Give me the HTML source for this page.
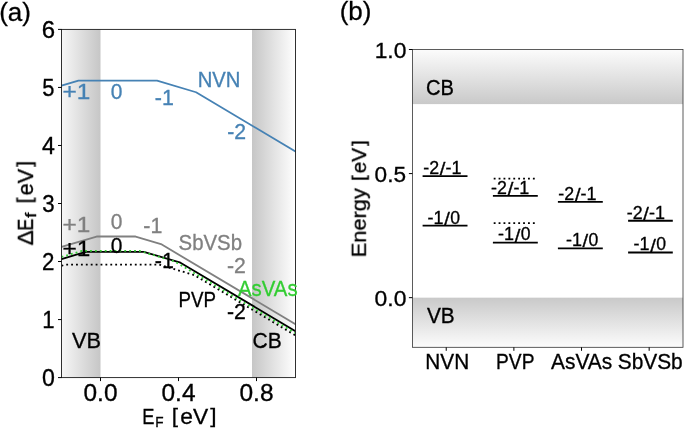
<!DOCTYPE html>
<html><head><meta charset="utf-8"><title>Formation energies</title>
<style>
html,body{margin:0;padding:0;background:#fff;}
body{width:685px;height:430px;overflow:hidden;}
svg{display:block;}
text{font-family:"Liberation Sans",sans-serif;white-space:pre;}
</style></head><body>
<svg width="685" height="430" viewBox="0 0 685 430">
<defs>
<linearGradient id="gvb" x1="0" y1="0" x2="1" y2="0"><stop offset="0" stop-color="#f7f7f7"/><stop offset="1" stop-color="#c6c6c6"/></linearGradient>
<linearGradient id="gcb" x1="0" y1="0" x2="1" y2="0"><stop offset="0" stop-color="#c6c6c6"/><stop offset="1" stop-color="#ffffff"/></linearGradient>
<linearGradient id="gcbv" x1="0" y1="0" x2="0" y2="1"><stop offset="0" stop-color="#fcfcfc"/><stop offset="1" stop-color="#c9c9c9"/></linearGradient>
<linearGradient id="gvbv" x1="0" y1="0" x2="0" y2="1"><stop offset="0" stop-color="#c9c9c9"/><stop offset="1" stop-color="#fcfcfc"/></linearGradient>
<filter id="idf" x="-5%" y="-5%" width="110%" height="110%" color-interpolation-filters="sRGB"><feOffset dx="0" dy="0"/></filter>
<clipPath id="ca"><rect x="61.5" y="29.4" width="234.0" height="348.20000000000005"/></clipPath>
</defs>
<rect width="685" height="430" fill="#fff"/>

<rect x="61.5" y="29.4" width="39.00" height="348.20000000000005" fill="url(#gvb)"/>
<rect x="252.00" y="29.4" width="43.50" height="348.20000000000005" fill="url(#gcb)"/>
<polyline points="61.50,85.69 78.47,80.64 157.05,80.64 196.05,92.25 295.50,151.44" fill="none" stroke="#4682b4" stroke-width="1.8" stroke-linejoin="round" stroke-linecap="square" clip-path="url(#ca)"/>
<polyline points="61.50,259.04 85.88,251.78 143.79,251.78 180.45,262.69 295.50,331.17" fill="none" stroke="#000" stroke-width="1.8" stroke-linejoin="round" stroke-linecap="square" clip-path="url(#ca)"/>
<polyline points="61.50,265.77 65.40,264.61 159.00,264.61 194.10,275.06 295.50,335.41" fill="none" stroke="#000" stroke-width="1.8" stroke-linejoin="round" stroke-linecap="butt" stroke-dasharray="1.85 3.05" clip-path="url(#ca)"/>
<polyline points="61.50,257.01 81.98,250.91 139.50,250.91 174.60,261.36 295.50,333.32" fill="none" stroke="#32cd32" stroke-width="1.8" stroke-linejoin="round" stroke-linecap="butt" stroke-dasharray="1.85 3.05" clip-path="url(#ca)"/>
<polyline points="61.50,246.97 96.60,236.52 135.60,236.52 160.95,244.07 295.50,324.15" fill="none" stroke="#808080" stroke-width="1.8" stroke-linejoin="round" stroke-linecap="square" clip-path="url(#ca)"/>
<rect x="61.5" y="29.4" width="234.0" height="348.20000000000005" fill="none" stroke="#1a1a1a" stroke-width="0.9"/>
<line x1="58.0" y1="377.60" x2="61.5" y2="377.60" stroke="#000" stroke-width="1"/>
<text transform="translate(41.95 386.08) scale(1.0541 1.0683)" font-size="22.00" fill="#000" stroke="#000" stroke-width="0.3" filter="url(#idf)">0</text>
<line x1="58.0" y1="319.57" x2="61.5" y2="319.57" stroke="#000" stroke-width="1"/>
<text transform="translate(42.13 327.97) scale(1.0068 1.0596)" font-size="22.00" fill="#000" stroke="#000" stroke-width="0.3" filter="url(#idf)">1</text>
<line x1="58.0" y1="261.53" x2="61.5" y2="261.53" stroke="#000" stroke-width="1"/>
<text transform="translate(41.89 269.93) scale(1.0161 1.0629)" font-size="22.00" fill="#000" stroke="#000" stroke-width="0.3" filter="url(#idf)">2</text>
<line x1="58.0" y1="203.50" x2="61.5" y2="203.50" stroke="#000" stroke-width="1"/>
<text transform="translate(42.23 211.98) scale(1.0124 1.0683)" font-size="22.00" fill="#000" stroke="#000" stroke-width="0.3" filter="url(#idf)">3</text>
<line x1="58.0" y1="145.47" x2="61.5" y2="145.47" stroke="#000" stroke-width="1"/>
<text transform="translate(41.94 153.87) scale(1.0543 1.0596)" font-size="22.00" fill="#000" stroke="#000" stroke-width="0.3" filter="url(#idf)">4</text>
<line x1="58.0" y1="87.43" x2="61.5" y2="87.43" stroke="#000" stroke-width="1"/>
<text transform="translate(42.22 95.92) scale(0.9949 1.0651)" font-size="22.00" fill="#000" stroke="#000" stroke-width="0.3" filter="url(#idf)">5</text>
<line x1="58.0" y1="29.40" x2="61.5" y2="29.40" stroke="#000" stroke-width="1"/>
<text transform="translate(41.72 37.88) scale(1.0910 1.0683)" font-size="22.00" fill="#000" stroke="#000" stroke-width="0.3" filter="url(#idf)">6</text>
<line x1="100.50" y1="377.6" x2="100.50" y2="381.1" stroke="#000" stroke-width="1"/>
<text transform="translate(83.50 400.88) scale(1.1113 1.0683)" font-size="22.00" fill="#000" stroke="#000" stroke-width="0.3" filter="url(#idf)">0.0</text>
<line x1="178.50" y1="377.6" x2="178.50" y2="381.1" stroke="#000" stroke-width="1"/>
<text transform="translate(161.50 400.88) scale(1.1108 1.0683)" font-size="22.00" fill="#000" stroke="#000" stroke-width="0.3" filter="url(#idf)">0.4</text>
<line x1="256.50" y1="377.6" x2="256.50" y2="381.1" stroke="#000" stroke-width="1"/>
<text transform="translate(239.50 400.88) scale(1.1135 1.0683)" font-size="22.00" fill="#000" stroke="#000" stroke-width="0.3" filter="url(#idf)">0.8</text>
<text transform="translate(142.30 424.20) scale(0.9013 1.0596)" font-size="20.30" fill="#000" stroke="#000" stroke-width="0.3" filter="url(#idf)">E</text>
<text transform="translate(155.18 427.40) scale(0.9857 1.0596)" font-size="13.80" fill="#000" stroke="#000" stroke-width="0.3" filter="url(#idf)">F</text>
<text transform="translate(171.79 422.95) scale(1.0418 0.9565)" font-size="21.70" fill="#000" stroke="#000" stroke-width="0.3" filter="url(#idf)">[</text>
<text transform="translate(180.23 424.48) scale(1.0506 0.9964)" font-size="21.70" fill="#000" stroke="#000" stroke-width="0.3" filter="url(#idf)">eV</text>
<text transform="translate(210.13 422.95) scale(1.0418 0.9565)" font-size="21.70" fill="#000" stroke="#000" stroke-width="0.3" filter="url(#idf)">]</text>
<text transform="translate(32.9 245.0) rotate(-90) translate(-0.38 0.00) scale(1.0988 1.0596)" font-size="20.70" fill="#000" stroke="#000" stroke-width="0.3" filter="url(#idf)">Δ</text>
<text transform="translate(32.9 245.0) rotate(-90) translate(14.33 0.00) scale(0.8667 1.0596)" font-size="20.70" fill="#000" stroke="#000" stroke-width="0.3" filter="url(#idf)">E</text>
<text transform="translate(32.9 245.0) rotate(-90) translate(27.13 3.10) scale(1.3131 1.0499)" font-size="14.49" fill="#000" stroke="#000" stroke-width="0.3" filter="url(#idf)">f</text>
<text transform="translate(32.9 245.0) rotate(-90) translate(41.56 -1.38) scale(1.0418 0.9565)" font-size="20.70" fill="#000" stroke="#000" stroke-width="0.3" filter="url(#idf)">[</text>
<text transform="translate(32.9 245.0) rotate(-90) translate(49.62 0.08) scale(1.0506 1.0651)" font-size="20.70" fill="#000" stroke="#000" stroke-width="0.3" filter="url(#idf)">eV</text>
<text transform="translate(32.9 245.0) rotate(-90) translate(78.14 -1.38) scale(1.0418 0.9565)" font-size="20.70" fill="#000" stroke="#000" stroke-width="0.3" filter="url(#idf)">]</text>
<text transform="translate(62.51 98.70) scale(1.1933 1.0596)" font-size="20.40" fill="#4682b4" stroke="#4682b4" stroke-width="0.3" filter="url(#idf)">+1</text>
<text transform="translate(110.68 98.78) scale(1.0278 1.0683)" font-size="20.40" fill="#4682b4" stroke="#4682b4" stroke-width="0.3" filter="url(#idf)">0</text>
<text transform="translate(154.85 104.90) scale(1.0486 1.0596)" font-size="20.40" fill="#4682b4" stroke="#4682b4" stroke-width="0.3" filter="url(#idf)">-1</text>
<text transform="translate(227.26 139.30) scale(1.0409 1.0629)" font-size="20.40" fill="#4682b4" stroke="#4682b4" stroke-width="0.3" filter="url(#idf)">-2</text>
<text transform="translate(197.74 87.10) scale(0.9931 1.0596)" font-size="20.40" fill="#4682b4" stroke="#4682b4" stroke-width="0.3" filter="url(#idf)">NVN</text>
<text transform="translate(62.51 232.40) scale(1.1933 1.0596)" font-size="20.40" fill="#808080" stroke="#808080" stroke-width="0.3" filter="url(#idf)">+1</text>
<text transform="translate(110.68 229.48) scale(1.0278 1.0683)" font-size="20.40" fill="#808080" stroke="#808080" stroke-width="0.3" filter="url(#idf)">0</text>
<text transform="translate(143.35 232.60) scale(1.0486 1.0596)" font-size="20.40" fill="#808080" stroke="#808080" stroke-width="0.3" filter="url(#idf)">-1</text>
<text transform="translate(227.06 272.90) scale(1.0409 1.0629)" font-size="20.40" fill="#808080" stroke="#808080" stroke-width="0.3" filter="url(#idf)">-2</text>
<text transform="translate(178.57 249.98) scale(0.9997 1.0539)" font-size="20.40" fill="#808080" stroke="#808080" stroke-width="0.3" filter="url(#idf)">SbVSb</text>
<text transform="translate(62.51 255.90) scale(1.1933 1.0596)" font-size="20.40" fill="#000" stroke="#000" stroke-width="0.3" filter="url(#idf)">+1</text>
<text transform="translate(110.68 252.88) scale(1.0278 1.0683)" font-size="20.40" fill="#000" stroke="#000" stroke-width="0.3" filter="url(#idf)">0</text>
<text transform="translate(154.85 268.20) scale(1.0486 1.0596)" font-size="20.40" fill="#000" stroke="#000" stroke-width="0.3" filter="url(#idf)">-1</text>
<text transform="translate(227.06 318.90) scale(1.0409 1.0629)" font-size="20.40" fill="#000" stroke="#000" stroke-width="0.3" filter="url(#idf)">-2</text>
<text transform="translate(178.46 307.30) scale(0.9184 1.0596)" font-size="20.40" fill="#000" stroke="#000" stroke-width="0.3" filter="url(#idf)">PVP</text>
<text transform="translate(237.96 295.88) scale(0.9996 1.0651)" font-size="20.40" fill="#32cd32" stroke="#32cd32" stroke-width="0.3" filter="url(#idf)">AsVAs</text>
<text transform="translate(71.90 347.90) scale(1.0115 1.0596)" font-size="21.50" fill="#000" stroke="#000" stroke-width="0.3" filter="url(#idf)">VB</text>
<text transform="translate(252.53 347.98) scale(0.9780 1.0683)" font-size="21.50" fill="#000" stroke="#000" stroke-width="0.3" filter="url(#idf)">CB</text>
<text x="-0.8" y="21.2" font-size="26" fill="#000" stroke="#000" stroke-width="0.3" filter="url(#idf)">(a)</text>
<text x="339.7" y="20.0" font-size="26" fill="#000" stroke="#000" stroke-width="0.3" filter="url(#idf)">(b)</text>
<rect x="412.4" y="49.5" width="270.6" height="54.60" fill="url(#gcbv)"/>
<rect x="412.4" y="297.67" width="270.6" height="49.63" fill="url(#gvbv)"/>
<rect x="412.4" y="49.5" width="270.6" height="297.8" fill="none" stroke="#333" stroke-width="0.8"/>
<line x1="408.9" y1="297.67" x2="412.4" y2="297.67" stroke="#000" stroke-width="1"/>
<text transform="translate(374.60 305.84) scale(1.1113 1.0683)" font-size="20.60" fill="#000" stroke="#000" stroke-width="0.3" filter="url(#idf)">0.0</text>
<line x1="408.9" y1="173.58" x2="412.4" y2="173.58" stroke="#000" stroke-width="1"/>
<text transform="translate(374.61 181.76) scale(1.0977 1.0683)" font-size="20.60" fill="#000" stroke="#000" stroke-width="0.3" filter="url(#idf)">0.5</text>
<line x1="408.9" y1="49.50" x2="412.4" y2="49.50" stroke="#000" stroke-width="1"/>
<text transform="translate(374.66 57.68) scale(1.1092 1.0683)" font-size="20.60" fill="#000" stroke="#000" stroke-width="0.3" filter="url(#idf)">1.0</text>
<line x1="446.22" y1="347.3" x2="446.22" y2="350.8" stroke="#000" stroke-width="1"/>
<text transform="translate(425.28 368.90) scale(1.0186 1.0596)" font-size="20.40" fill="#000" stroke="#000" stroke-width="0.3" filter="url(#idf)">NVN</text>
<line x1="513.88" y1="347.3" x2="513.88" y2="350.8" stroke="#000" stroke-width="1"/>
<text transform="translate(496.02 368.90) scale(0.9419 1.0596)" font-size="20.40" fill="#000" stroke="#000" stroke-width="0.3" filter="url(#idf)">PVP</text>
<line x1="581.52" y1="347.3" x2="581.52" y2="350.8" stroke="#000" stroke-width="1"/>
<text transform="translate(551.08 368.98) scale(1.0252 1.0651)" font-size="20.40" fill="#000" stroke="#000" stroke-width="0.3" filter="url(#idf)">AsVAs</text>
<line x1="649.17" y1="347.3" x2="649.17" y2="350.8" stroke="#000" stroke-width="1"/>
<text transform="translate(617.69 368.98) scale(1.0253 1.0539)" font-size="20.40" fill="#000" stroke="#000" stroke-width="0.3" filter="url(#idf)">SbVSb</text>
<text transform="translate(425.98 94.58) scale(0.9780 1.0683)" font-size="20.60" fill="#000" stroke="#000" stroke-width="0.3" filter="url(#idf)">CB</text>
<text transform="translate(426.91 323.00) scale(1.0115 1.0596)" font-size="20.60" fill="#000" stroke="#000" stroke-width="0.3" filter="url(#idf)">VB</text>
<text transform="translate(366.0 255.5) rotate(-90) translate(-1.79 -0.17) scale(1.1487 1.0463)" font-size="19.00" fill="#000" stroke="#000" stroke-width="0.3" filter="url(#idf)">Energy</text>
<text transform="translate(366.0 255.5) rotate(-90) translate(74.46 -1.27) scale(1.0886 0.9565)" font-size="19.00" fill="#000" stroke="#000" stroke-width="0.3" filter="url(#idf)">[</text>
<text transform="translate(366.0 255.5) rotate(-90) translate(82.18 0.07) scale(1.0979 1.0651)" font-size="19.00" fill="#000" stroke="#000" stroke-width="0.3" filter="url(#idf)">eV</text>
<text transform="translate(366.0 255.5) rotate(-90) translate(109.54 -1.27) scale(1.0886 0.9565)" font-size="19.00" fill="#000" stroke="#000" stroke-width="0.3" filter="url(#idf)">]</text>
<line x1="422.6" y1="176.06" x2="467.5" y2="176.06" stroke="#000" stroke-width="1.8"/>
<text transform="translate(423.21 173.87) scale(1.0676 1.0629)" font-size="16.70" fill="#000" stroke="#000" stroke-width="0.3" filter="url(#idf)">-2</text>
<text transform="translate(439.84 175.23) scale(1.2127 1.1190)" font-size="16.70" fill="#000" stroke="#000" stroke-width="0.3" filter="url(#idf)">/</text>
<text transform="translate(445.48 173.87) scale(1.0755 1.0596)" font-size="16.70" fill="#000" stroke="#000" stroke-width="0.3" filter="url(#idf)">-1</text>
<line x1="422.6" y1="225.70" x2="467.5" y2="225.70" stroke="#000" stroke-width="1.8"/>
<text transform="translate(427.50 223.50) scale(1.0755 1.0596)" font-size="16.70" fill="#000" stroke="#000" stroke-width="0.3" filter="url(#idf)">-1</text>
<text transform="translate(444.14 224.87) scale(1.2127 1.1190)" font-size="16.70" fill="#000" stroke="#000" stroke-width="0.3" filter="url(#idf)">/</text>
<text transform="translate(450.18 223.56) scale(1.0541 1.0683)" font-size="16.70" fill="#000" stroke="#000" stroke-width="0.3" filter="url(#idf)">0</text>
<line x1="492.9" y1="195.92" x2="537.8" y2="195.92" stroke="#000" stroke-width="1.8"/>
<text transform="translate(491.11 193.72) scale(1.0676 1.0629)" font-size="16.70" fill="#000" stroke="#000" stroke-width="0.3" filter="url(#idf)">-2</text>
<text transform="translate(507.74 195.09) scale(1.2127 1.1190)" font-size="16.70" fill="#000" stroke="#000" stroke-width="0.3" filter="url(#idf)">/</text>
<text transform="translate(513.38 193.72) scale(1.0755 1.0596)" font-size="16.70" fill="#000" stroke="#000" stroke-width="0.3" filter="url(#idf)">-1</text>
<line x1="492.9" y1="242.57" x2="537.8" y2="242.57" stroke="#000" stroke-width="1.8"/>
<text transform="translate(498.10 240.37) scale(1.0755 1.0596)" font-size="16.70" fill="#000" stroke="#000" stroke-width="0.3" filter="url(#idf)">-1</text>
<text transform="translate(514.74 241.74) scale(1.2127 1.1190)" font-size="16.70" fill="#000" stroke="#000" stroke-width="0.3" filter="url(#idf)">/</text>
<text transform="translate(520.78 240.44) scale(1.0541 1.0683)" font-size="16.70" fill="#000" stroke="#000" stroke-width="0.3" filter="url(#idf)">0</text>
<line x1="557.9" y1="201.87" x2="602.8" y2="201.87" stroke="#000" stroke-width="1.8"/>
<text transform="translate(558.31 199.67) scale(1.0676 1.0629)" font-size="16.70" fill="#000" stroke="#000" stroke-width="0.3" filter="url(#idf)">-2</text>
<text transform="translate(574.94 201.04) scale(1.2127 1.1190)" font-size="16.70" fill="#000" stroke="#000" stroke-width="0.3" filter="url(#idf)">/</text>
<text transform="translate(580.58 199.67) scale(1.0755 1.0596)" font-size="16.70" fill="#000" stroke="#000" stroke-width="0.3" filter="url(#idf)">-1</text>
<line x1="557.9" y1="248.28" x2="602.8" y2="248.28" stroke="#000" stroke-width="1.8"/>
<text transform="translate(565.90 246.08) scale(1.0755 1.0596)" font-size="16.70" fill="#000" stroke="#000" stroke-width="0.3" filter="url(#idf)">-1</text>
<text transform="translate(582.54 247.45) scale(1.2127 1.1190)" font-size="16.70" fill="#000" stroke="#000" stroke-width="0.3" filter="url(#idf)">/</text>
<text transform="translate(588.58 246.14) scale(1.0541 1.0683)" font-size="16.70" fill="#000" stroke="#000" stroke-width="0.3" filter="url(#idf)">0</text>
<line x1="628.1" y1="220.74" x2="672.8" y2="220.74" stroke="#000" stroke-width="1.8"/>
<text transform="translate(626.71 218.54) scale(1.0676 1.0629)" font-size="16.70" fill="#000" stroke="#000" stroke-width="0.3" filter="url(#idf)">-2</text>
<text transform="translate(643.34 219.90) scale(1.2127 1.1190)" font-size="16.70" fill="#000" stroke="#000" stroke-width="0.3" filter="url(#idf)">/</text>
<text transform="translate(648.98 218.54) scale(1.0755 1.0596)" font-size="16.70" fill="#000" stroke="#000" stroke-width="0.3" filter="url(#idf)">-1</text>
<line x1="628.1" y1="252.50" x2="672.8" y2="252.50" stroke="#000" stroke-width="1.8"/>
<text transform="translate(633.60 250.30) scale(1.0755 1.0596)" font-size="16.70" fill="#000" stroke="#000" stroke-width="0.3" filter="url(#idf)">-1</text>
<text transform="translate(650.24 251.67) scale(1.2127 1.1190)" font-size="16.70" fill="#000" stroke="#000" stroke-width="0.3" filter="url(#idf)">/</text>
<text transform="translate(656.28 250.36) scale(1.0541 1.0683)" font-size="16.70" fill="#000" stroke="#000" stroke-width="0.3" filter="url(#idf)">0</text>
<line x1="493.7" y1="178.55" x2="536.3" y2="178.55" stroke="#000" stroke-width="1.8" stroke-dasharray="1.85 3.05"/>
<line x1="493.7" y1="223.22" x2="536.3" y2="223.22" stroke="#000" stroke-width="1.8" stroke-dasharray="1.85 3.05"/>
</svg></body></html>
